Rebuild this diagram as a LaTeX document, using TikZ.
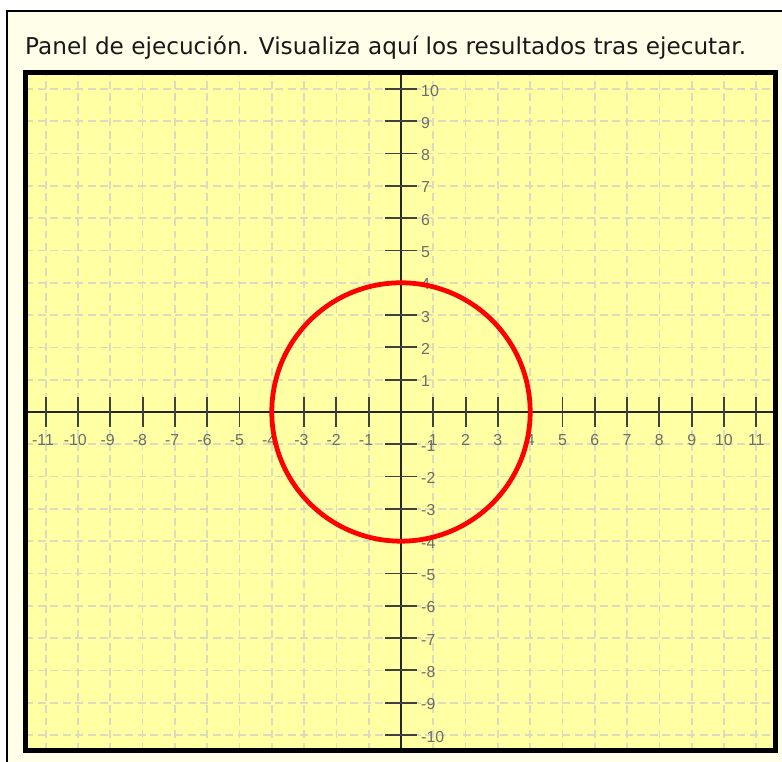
\documentclass[tikz,border=0pt]{standalone}
\usepackage{fontspec}
\setmainfont{DejaVu Sans}
\newfontfamily\tickfont{Liberation Sans}
\usepackage{xcolor}

\definecolor{panelbg}{RGB}{255,254,232}
\definecolor{plotbg}{RGB}{255,255,163}
\definecolor{gridcol}{RGB}{220,219,190}
\definecolor{ticklab}{RGB}{108,108,108}
\definecolor{curvecol}{RGB}{255,0,0}

\begin{document}
\begin{tikzpicture}[
  x=1cm, y=1cm,
  gridline/.style={draw=gridcol, line width=1.5pt, dash pattern=on 7pt off 4pt},
  axisline/.style={draw=black!85, line width=1.4pt},
  tickmark/.style={draw=black!75, line width=1.6pt},
  ticklabel/.style={font=\tickfont\fontsize{14}{15}\selectfont, text=ticklab, inner sep=0pt},
  curve/.style={draw=curvecol, line width=4.2pt}
]
  \clip (-12.415,-10.836) rectangle (11.796,12.755);
  \fill[white] (-12.415,-10.836) rectangle (11.796,12.755);
  \draw[fill=panelbg, line width=1.3pt] (-12.198,-12) rectangle (13,12.415);
  \node[anchor=base west, inner sep=0pt, text=black!90,
        font=\fontsize{20.4}{24}\selectfont] (title) at (-11.641,11.074)
        {Panel de ejecución. Visualiza aquí los resultados tras ejecutar.};

  \fill[plotbg] (-11.625,-10.48) rectangle (11.594,10.511);
  % dashed grid
  \foreach \i in {-11,...,11}
    \draw[gridline] (\i,-10.48) -- (\i,10.511);
  \foreach \j in {-10,...,10}
    \draw[gridline] (-11.625,\j) -- (11.594,\j);

  % axes
  \draw[axisline] (-11.625,0) -- (11.594,0);
  \draw[axisline] (0,-10.48) -- (0,10.511);

  \foreach \i in {-11,...,-1,1,2,...,11} {
    \draw[tickmark] (\i,-0.46) -- (\i,0.46);
    \pgfmathtruncatemacro\a{abs(\i)}
    \node[ticklabel] (xl\a\ifnum\i<0 m\fi) at (\i,-0.87) {\ifnum\i<0 \llap{-}\fi\a};
  }
  \foreach \j in {-10,...,-1,1,2,...,10} {
    \draw[tickmark] (-0.5,\j) -- (0.5,\j);
    \node[ticklabel, anchor=west] (yl\j) at (0.62,\j-0.05) {\j};
  }

  % result curve
  \draw[curve] (0,0) circle (4);

  \draw[line width=4.4pt] (-11.625,-10.48) rectangle (11.594,10.511);
\end{tikzpicture}
\end{document}
